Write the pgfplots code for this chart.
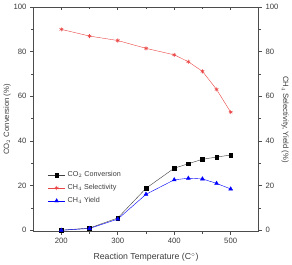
\documentclass[border=0pt]{standalone}
\usepackage{fontspec}
\setmainfont{Liberation Sans}
\usepackage{pgfplots}
\pgfplotsset{compat=1.18}
\definecolor{selred}{RGB}{235,70,70}
\definecolor{txt}{RGB}{60,60,60}
\begin{document}
\begin{tikzpicture}
\pgfplotsset{
  common/.style={
    scale only axis, width=219bp, height=218bp,
    xmin=150, xmax=550, ymin=-0.7, ymax=100,
    font=\fontsize{7.5}{8}\selectfont,
    /pgf/number format/assume math mode=true,
    tick label style={text=txt},
    label style={text=txt},
    axis line style={line width=0.8pt, black!70},
    major tick length=3pt, minor tick length=2pt,
    every tick/.style={black!70, line width=0.6pt},
  }
}
\begin{axis}[common,
  axis x line*=bottom, axis y line*=left,
  xtick={200,300,400,500}, minor xtick={250,350,450},
  ytick={0,20,40,60,80,100}, minor ytick={10,30,50,70,90},
  tick align=outside,
  xlabel={Reaction Temperature (C$^{\circ}$)},
  ylabel={CO$_2$ Conversion (\%)},
  xlabel style={font=\fontsize{8.5}{9}\selectfont, yshift=-2pt},
  ylabel style={yshift=-4pt},
  legend style={draw=none, fill=none, at={(0.05,0.195)}, anchor=west,
    font=\fontsize{7}{8}\selectfont, row sep=2pt, text=txt},
  legend cell align=left,
]
\addplot[black!75, thin, mark=square*, mark size=1.8pt, mark options={fill=black, draw=black}]
coordinates {(200,0) (250,1) (300,5.5) (350,18.8) (400,27.8) (425,29.8) (450,31.8) (475,32.8) (500,33.7)};
\addlegendentry{CO$_2$ Conversion}
\addplot[selred, thin, mark=asterisk, mark size=2pt, mark options={selred, line width=0.6pt}]
coordinates {(200,90) (250,87) (300,85) (350,81.5) (400,78.6) (425,75.5) (450,71.2) (475,63.1) (500,52.9)};
\addlegendentry{CH$_4$ Selectivity}
\addplot[blue, thin, mark=triangle*, mark size=2.2pt, mark options={fill=blue, draw=blue}]
coordinates {(200,0) (250,0.8) (300,5) (350,16.1) (400,22.6) (425,23.3) (450,23) (475,21) (500,18.5)};
\addlegendentry{CH$_4$ Yield}
\end{axis}
\begin{axis}[common,
  axis x line=none, axis y line*=right,
  ytick={0,20,40,60,80,100}, minor ytick={10,30,50,70,90},
  tick align=outside,
  ylabel={CH$_4$ Selectivity, Yield (\%)},
  ylabel style={rotate=180, yshift=-4pt},
]
\addplot[draw=none] coordinates {(200,0)};
\end{axis}
\begin{axis}[common,
  axis x line*=top, axis y line=none,
  xtick={200,300,400,500}, minor xtick={250,350,450},
  xticklabels={}, tick align=inside,
]
\addplot[draw=none] coordinates {(200,0)};
\end{axis}
\end{tikzpicture}
\end{document}
